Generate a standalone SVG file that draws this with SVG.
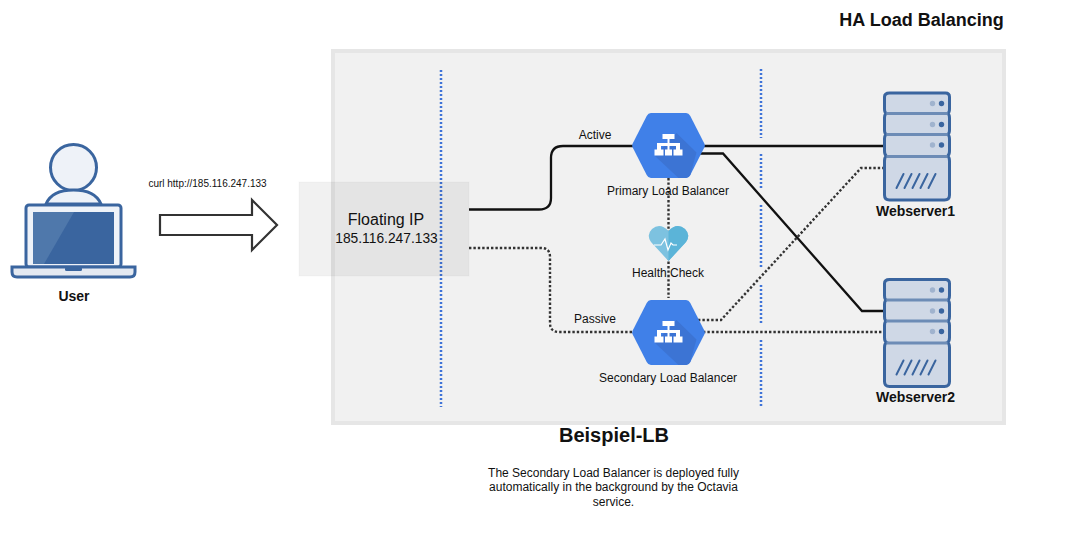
<svg xmlns="http://www.w3.org/2000/svg" width="1083" height="543" viewBox="0 0 1083 543">
<style>
text{font-family:"Liberation Sans",Arial,sans-serif;fill:#111;text-anchor:middle}
.b{font-weight:bold}
.s{font-size:12px}
.w{font-size:14px}
.guide{fill:none;stroke:#3f73d8;stroke-width:2.500;stroke-dasharray:2 2}
.solid{fill:none;stroke:#111;stroke-width:2.300}
.dot{fill:none;stroke:#333;stroke-width:2.400;stroke-dasharray:2.400 2}
.sv{fill:#cfd8e6;stroke:#3a659f;stroke-width:3}
.sep{fill:none;stroke:#6d8cb6;stroke-width:3}
</style>
<defs>
<g id="hex">
<path d="M-17.600-32.500H17.600Q20.200-32.500 21.800-29.500L35.800-2Q36.800 0 35.800 2L21.800 29.500Q20.200 32.500 17.600 32.500H-17.600Q-20.200 32.500-21.800 29.500L-35.800 2Q-36.800 0-35.800-2L-21.800-29.500Q-20.200-32.500-17.600-32.500Z" fill="#4080e8"/>
<path d="M-13.500 10.500L10 32.500H17.600Q20.200 32.500 21.800 29.500L28 7L8-12.500Z" fill="#3c74d4"/>
<path d="M-6-12.500H6V-7.500H1V-3.500H11.500V3H14V9H5V3H7.500V-0.500H1V3H3.500V9H-3.500V3H-1V-0.500H-7.500V3H-5V9H-14V3H-11.500V-3.500H-1V-7.500H-6Z" fill="#fff" transform="translate(0,1)"/>
</g>
<g id="server">
<path class="sv" d="M5 0H61Q65 0 65 4V16Q65 20 63 20.500Q65 21 65 25V37Q65 41 63 41.500Q65 42 65 46V58Q65 62 63 63Q65 64 65 68V102Q65 107 60 107H5Q0 107 0 102V68Q0 64 2 63Q0 62 0 58V46Q0 42 2 41.500Q0 41 0 37V25Q0 21 2 20.500Q0 20 0 16V4Q0 0 5 0Z"/>
<path class="sep" d="M2 20.500H63M2 41.500H63M2 63.500H63"/>
<g fill="#a0b3ce"><circle cx="48" cy="10.500" r="2.700"/><circle cx="48" cy="31.500" r="2.700"/><circle cx="48" cy="52" r="2.700"/></g>
<g fill="#3a659f"><circle cx="57" cy="10.500" r="2.700"/><circle cx="57" cy="31.500" r="2.700"/><circle cx="57" cy="52" r="2.700"/></g>
<path d="M12 95L19 81M20 95L27 81M28 95L35 81M36 95L43 81M44 95L51 81" stroke="#3a659f" stroke-width="2" stroke-linecap="round" fill="none"/>
</g>
</defs>
<text class="b" x="921.500" y="26" font-size="18">HA Load Balancing</text>
<g id="container"><rect x="333" y="51" width="671" height="372" fill="#f1f1f1" stroke="#e6e6e6" stroke-width="4"/></g>
<g id="guides">
<path class="guide" d="M441 70V407"/>
<path class="guide" d="M761 69V138M761 154V188M761 205V268M761 285V323M761 340V407"/>
</g>
<g id="floating-ip">
<rect x="299" y="182" width="170" height="94" fill="#373737" fill-opacity=".07" stroke="#373737" stroke-opacity=".03"/>
<text x="386" y="225" font-size="16">Floating IP</text>
<text x="386.500" y="243" font-size="13.800">185.116.247.133</text>
</g>
<g id="connectors">
<path class="solid" d="M469 209.500H539Q551 209.500 551 198V158Q551 146 563 146H634"/>
<path class="solid" d="M703 146H884"/>
<path class="solid" d="M699 153.500H723L862 311H884"/>
<path class="dot" d="M469 248H541Q550 248 550 257V323Q550 332 559 332H634"/>
<path class="dot" d="M703 332H884"/>
<path class="dot" d="M698 320H721L861 168H884"/>
<path class="dot" d="M668.500 178V298"/>
</g>
<g id="user">
<circle cx="73.500" cy="167.500" r="23" fill="#eef2f8" stroke="#3a659f" stroke-width="3"/>
<path d="M46 204Q52 190 73.500 190Q95 190 101 204Z" fill="#eef2f8" stroke="#3a659f" stroke-width="3"/>
<rect x="26" y="205" width="95" height="62" rx="3" fill="#eef2f8" stroke="#3a659f" stroke-width="3"/>
<rect x="33" y="212" width="81" height="52" fill="#3a659f"/>
<path d="M33 212H74L44 264H33Z" fill="#4f78ab"/>
<path d="M12 267H135V272Q135 277 130 277H17Q12 277 12 272Z" fill="#e4e9f1" stroke="#3a659f" stroke-width="3"/>
<rect x="65" y="267" width="17" height="4" rx="1.500" fill="#3a659f"/>
<text class="b" x="74" y="301" font-size="14">User</text>
</g>
<g id="request">
<text x="207.500" y="187" font-size="10">curl http://185.116.247.133</text>
<path d="M160 215H252V200L277 225L252 250V235H160Z" fill="#fff" stroke="#333" stroke-width="2.200"/>
</g>
<g id="primary-lb">
<use href="#hex" x="668.500" y="145.500"/>
<text x="668" y="195" class="s">Primary Load Balancer</text>
<text x="595" y="139" class="s">Active</text>
</g>
<g id="health-check">
<path d="M668.500 261L651 242Q646 235 652 229Q660 222 668.500 231Q677 222 685 229Q691 235 686 242Z" fill="#7dc2e0"/>
<path d="M668.500 261V231Q677 222 685 229Q691 235 686 242Z" fill="#5bb4d8"/>
<path d="M654 245H661L665 239L668 250L671 243L673 245H677" fill="none" stroke="#fff" stroke-width="1.200"/>
<text x="668" y="277" class="s">Health Check</text>
</g>
<g id="secondary-lb">
<use href="#hex" x="668.500" y="332.500"/>
<text x="668" y="382" class="s">Secondary Load Balancer</text>
<text x="595" y="323" class="s">Passive</text>
</g>
<g id="webserver1"><use href="#server" x="884.500" y="93"/><text class="b w" x="915.500" y="216">Webserver1</text></g>
<g id="webserver2"><use href="#server" x="884.500" y="279.500"/><text class="b w" x="915.500" y="402">Webserver2</text></g>
<text class="b" x="614" y="442" font-size="20">Beispiel-LB</text>
<g id="note" class="s">
<text x="613.500" y="477">The Secondary Load Balancer is deployed fully</text>
<text x="613.500" y="491">automatically in the background by the Octavia</text>
<text x="613.500" y="506">service.</text>
</g>
</svg>
